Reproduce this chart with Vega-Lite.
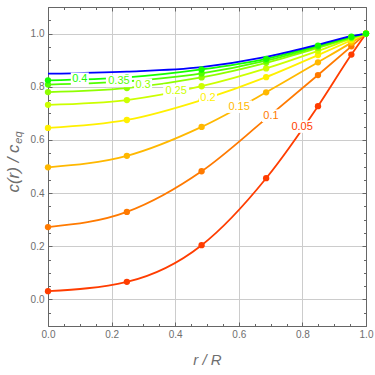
{
  "$schema": "https://vega.github.io/schema/vega-lite/v6.json",
  "width": 318,
  "height": 319,
  "autosize": {"type": "none"},
  "padding": {"left": 48, "top": 7, "right": 9, "bottom": 49},
  "background": "white",
  "config": {
    "view": {"stroke": "#666666", "strokeWidth": 1},
    "axis": {
      "domainColor": "#666666", "tickColor": "#666666", "gridColor": "#cccccc",
      "labelColor": "#6e6e6e", "titleColor": "#6e6e6e",
      "labelFont": "Liberation Sans", "labelFontSize": 10,
      "titleFont": "Liberation Sans", "titleFontSize": 15, "titleFontStyle": "italic", "titleFontWeight": "normal",
      "labelFlush": false, "labelOverlap": false
    }
  },
  "datasets": {
    "curves": [
      {"t": "0.05", "x": 0, "y": 0.031}, {"t": "0.05", "x": 0.248, "y": 0.066}, {"t": "0.05", "x": 0.483, "y": 0.204}, {"t": "0.05", "x": 0.686, "y": 0.456}, {"t": "0.05", "x": 0.849, "y": 0.727}, {"t": "0.05", "x": 0.954, "y": 0.921}, {"t": "0.05", "x": 1, "y": 1},
      {"t": "0.1", "x": 0, "y": 0.272}, {"t": "0.1", "x": 0.248, "y": 0.329}, {"t": "0.1", "x": 0.483, "y": 0.482}, {"t": "0.1", "x": 0.686, "y": 0.68}, {"t": "0.1", "x": 0.849, "y": 0.844}, {"t": "0.1", "x": 0.954, "y": 0.952}, {"t": "0.1", "x": 1, "y": 1},
      {"t": "0.15", "x": 0, "y": 0.497}, {"t": "0.15", "x": 0.248, "y": 0.54}, {"t": "0.15", "x": 0.483, "y": 0.649}, {"t": "0.15", "x": 0.686, "y": 0.779}, {"t": "0.15", "x": 0.849, "y": 0.892}, {"t": "0.15", "x": 0.954, "y": 0.966}, {"t": "0.15", "x": 1, "y": 1},
      {"t": "0.2", "x": 0, "y": 0.645}, {"t": "0.2", "x": 0.248, "y": 0.675}, {"t": "0.2", "x": 0.483, "y": 0.75}, {"t": "0.2", "x": 0.686, "y": 0.836}, {"t": "0.2", "x": 0.849, "y": 0.919}, {"t": "0.2", "x": 0.954, "y": 0.975}, {"t": "0.2", "x": 1, "y": 1},
      {"t": "0.25", "x": 0, "y": 0.732}, {"t": "0.25", "x": 0.248, "y": 0.75}, {"t": "0.25", "x": 0.483, "y": 0.802}, {"t": "0.25", "x": 0.686, "y": 0.869}, {"t": "0.25", "x": 0.849, "y": 0.935}, {"t": "0.25", "x": 0.954, "y": 0.981}, {"t": "0.25", "x": 1, "y": 1},
      {"t": "0.3", "x": 0, "y": 0.78}, {"t": "0.3", "x": 0.248, "y": 0.795}, {"t": "0.3", "x": 0.483, "y": 0.835}, {"t": "0.3", "x": 0.686, "y": 0.89}, {"t": "0.3", "x": 0.849, "y": 0.946}, {"t": "0.3", "x": 0.954, "y": 0.984}, {"t": "0.3", "x": 1, "y": 1},
      {"t": "0.35", "x": 0, "y": 0.808}, {"t": "0.35", "x": 0.248, "y": 0.82}, {"t": "0.35", "x": 0.483, "y": 0.85}, {"t": "0.35", "x": 0.686, "y": 0.898}, {"t": "0.35", "x": 0.849, "y": 0.951}, {"t": "0.35", "x": 0.954, "y": 0.986}, {"t": "0.35", "x": 1, "y": 1},
      {"t": "0.4", "x": 0, "y": 0.824}, {"t": "0.4", "x": 0.248, "y": 0.835}, {"t": "0.4", "x": 0.483, "y": 0.865}, {"t": "0.4", "x": 0.686, "y": 0.905}, {"t": "0.4", "x": 0.849, "y": 0.955}, {"t": "0.4", "x": 0.954, "y": 0.988}, {"t": "0.4", "x": 1, "y": 1},
      {"t": "steady", "x": 0, "y": 0.849}, {"t": "steady", "x": 0.248, "y": 0.857}, {"t": "steady", "x": 0.483, "y": 0.874}, {"t": "steady", "x": 0.686, "y": 0.912}, {"t": "steady", "x": 0.849, "y": 0.958}, {"t": "steady", "x": 0.954, "y": 0.99}, {"t": "steady", "x": 1, "y": 1}
    ],
    "labels": [
      {"t": "0.4", "x": 0.1, "y": 0.83},
      {"t": "0.35", "x": 0.223, "y": 0.822},
      {"t": "0.3", "x": 0.299, "y": 0.807},
      {"t": "0.25", "x": 0.403, "y": 0.785},
      {"t": "0.2", "x": 0.503, "y": 0.759},
      {"t": "0.15", "x": 0.601, "y": 0.725},
      {"t": "0.1", "x": 0.701, "y": 0.691},
      {"t": "0.05", "x": 0.799, "y": 0.65}
    ]
  },
  "layer": [
    {
      "data": {"name": "curves"},
      "mark": {"type": "line", "interpolate": "monotone", "strokeWidth": 1.8, "clip": true},
      "encoding": {
        "x": {"field": "x", "type": "quantitative", "scale": {"domain": [0, 1], "nice": false, "zero": false},
          "axis": {"orient": "bottom", "title": "r / R",
            "values": [0,0.05,0.1,0.15,0.2,0.25,0.3,0.35,0.4,0.45,0.5,0.55,0.6,0.65,0.7,0.75,0.8,0.85,0.9,0.95,1],
            "labelExpr": "abs(datum.value*5-round(datum.value*5))<0.001 ? format(datum.value,'.1f') : ''",
            "grid": true,
            "gridOpacity": {"condition": {"test": "abs(datum.value*5-round(datum.value*5))<0.001", "value": 1}, "value": 0},
            "tickSize": {"condition": {"test": "abs(datum.value*5-round(datum.value*5))<0.001", "value": -4}, "value": -2.5},
            "labelPadding": 7, "titlePadding": 12}},
        "y": {"field": "y", "type": "quantitative", "scale": {"domain": [-0.1, 1.1], "nice": false, "zero": false},
          "axis": {"orient": "left", "title": "c(r) / c",
            "values": [-0.05,0,0.05,0.1,0.15,0.2,0.25,0.3,0.35,0.4,0.45,0.5,0.55,0.6,0.65,0.7,0.75,0.8,0.85,0.9,0.95,1,1.05],
            "labelExpr": "abs(datum.value*5-round(datum.value*5))<0.001 ? format(datum.value,'.1f') : ''",
            "grid": true,
            "gridOpacity": {"condition": {"test": "abs(datum.value*5-round(datum.value*5))<0.001", "value": 1}, "value": 0},
            "tickSize": {"condition": {"test": "abs(datum.value*5-round(datum.value*5))<0.001", "value": -4}, "value": -2.5},
            "labelPadding": 8, "titleFontSize": 17,
            "titleX": -30, "titleY": 161, "titleBaseline": "alphabetic", "titleAlign": "center", "titleAngle": 270}},
        "color": {"field": "t", "type": "nominal", "legend": null,
          "scale": {"domain": ["0.05","0.1","0.15","0.2","0.25","0.3","0.35","0.4","steady"],
                    "range": ["#FF3D00","#FF7A00","#FFB800","#FFF000","#CCFF00","#8FFF00","#52FF00","#14FF00","#0000FF"]}}
      }
    },
    {
      "data": {"name": "curves"},
      "transform": [{"filter": "datum.t != 'steady'"}],
      "mark": {"type": "point", "filled": true, "size": 40, "opacity": 1},
      "encoding": {
        "x": {"field": "x", "type": "quantitative",
          "axis": {"orient": "top", "title": null, "labels": false, "grid": false,
            "values": [0,0.05,0.1,0.15,0.2,0.25,0.3,0.35,0.4,0.45,0.5,0.55,0.6,0.65,0.7,0.75,0.8,0.85,0.9,0.95,1],
            "tickSize": {"condition": {"test": "abs(datum.value*5-round(datum.value*5))<0.001", "value": -4}, "value": -2.5}}},
        "y": {"field": "y", "type": "quantitative",
          "axis": {"orient": "right", "title": null, "labels": false, "grid": false,
            "values": [-0.05,0,0.05,0.1,0.15,0.2,0.25,0.3,0.35,0.4,0.45,0.5,0.55,0.6,0.65,0.7,0.75,0.8,0.85,0.9,0.95,1,1.05],
            "tickSize": {"condition": {"test": "abs(datum.value*5-round(datum.value*5))<0.001", "value": -4}, "value": -2.5}}},
        "color": {"field": "t", "type": "nominal", "legend": null}
      }
    },
    {
      "data": {"name": "labels"},
      "transform": [{"filter": "length(datum.t) == 3"}],
      "mark": {"type": "point", "shape": "M-1,-0.7H1V0.7H-1Z", "filled": true, "fill": "white", "opacity": 1, "strokeWidth": 0, "size": 324},
      "encoding": {
        "x": {"field": "x", "type": "quantitative", "axis": null},
        "y": {"field": "y", "type": "quantitative",
          "axis": {"orient": "left", "title": "eq", "labels": false, "ticks": false, "domain": false, "grid": false,
            "titleFontSize": 11, "titleX": -27, "titleY": 130, "titleBaseline": "alphabetic", "titleAlign": "center", "titleAngle": 270}}
      }
    },
    {
      "data": {"name": "labels"},
      "transform": [{"filter": "length(datum.t) == 4"}],
      "mark": {"type": "point", "shape": "M-1,-0.48H1V0.48H-1Z", "filled": true, "fill": "white", "opacity": 1, "strokeWidth": 0, "size": 676},
      "encoding": {
        "x": {"field": "x", "type": "quantitative", "axis": null},
        "y": {"field": "y", "type": "quantitative", "axis": null}
      }
    },
    {
      "data": {"name": "labels"},
      "mark": {"type": "text", "font": "Liberation Sans", "fontSize": 11, "baseline": "middle", "align": "center"},
      "encoding": {
        "x": {"field": "x", "type": "quantitative", "axis": null},
        "y": {"field": "y", "type": "quantitative", "axis": null},
        "text": {"field": "t"},
        "color": {"field": "t", "type": "nominal", "legend": null}
      }
    }
  ],
  "resolve": {"axis": {"x": "independent", "y": "independent"}}
}
